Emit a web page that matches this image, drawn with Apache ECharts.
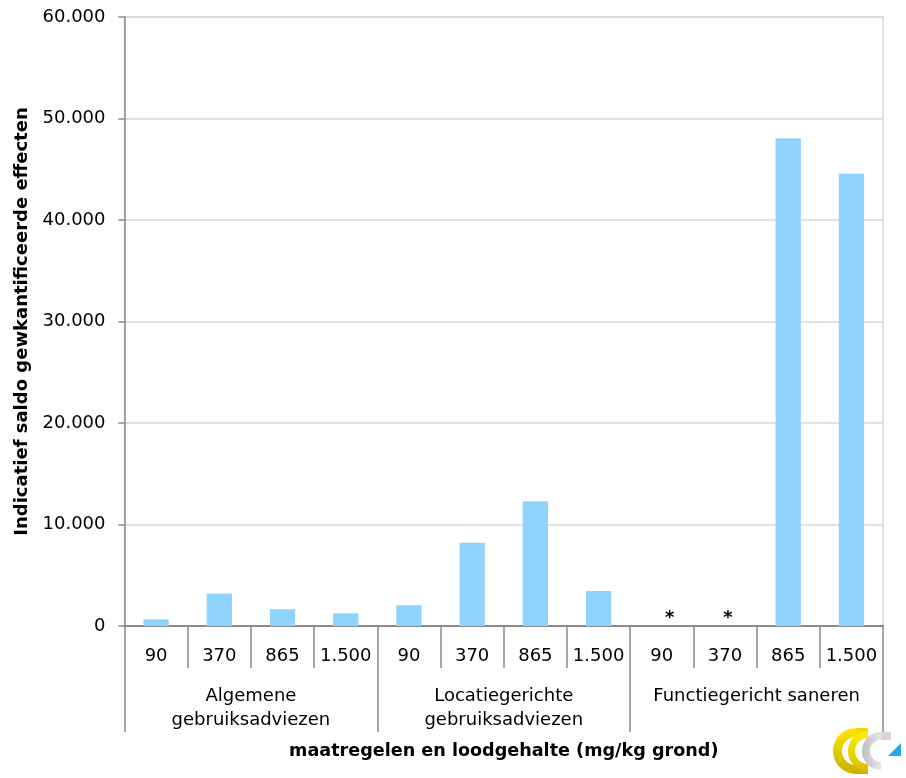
<!DOCTYPE html>
<html>
<head>
<meta charset="utf-8">
<script src="https://cdn.jsdelivr.net/npm/echarts@6/dist/echarts.min.js"></script>
<style>
  html, body { margin: 0; padding: 0; background: #fff; }
  #chart { width: 906px; height: 778px; }
</style>
</head>
<body>
<div id="chart"></div>
<script>
// Loodgehalte per maatregel (mg/kg grond)
const loodgehalten = ['90', '370', '865', '1.500', '90', '370', '865', '1.500', '90', '370', '865', '1.500'];
// Maatregelen, elk met vier loodgehalten
const maatregelen = ['Algemene\ngebruiksadviezen', 'Locatiegerichte\ngebruiksadviezen', 'Functiegericht saneren'];
// Indicatief saldo; null = niet gekwantificeerd (*)
const saldo = [650, 3200, 1650, 1250, 2050, 8200, 12300, 3450, null, null, 48050, 44550];
// Waarden op de y-as
const yTicks = [0, 10000, 20000, 30000, 40000, 50000, 60000];

const FONT = 'DejaVu Sans';
const AXIS_GREY = '#8a8a8a';

function nl(v) {
  return String(v).replace(/\B(?=(\d{3})+(?!\d))/g, '.');
}

const starShift = { 8: 8, 9: 3 };
const barData = saldo.map((v, i) => v === null
  ? {
      value: 0,
      itemStyle: { color: 'rgba(0,0,0,0)' },
      label: { show: true, formatter: '*', offset: [starShift[i] || 0, 6] }
    }
  : v);

const chart = echarts.init(document.getElementById('chart'), null, { renderer: 'canvas' });

chart.setOption({
  animation: false,
  backgroundColor: '#ffffff',
  textStyle: { fontFamily: FONT },
  grid: {
    left: 124.5, right: 23, top: 17, bottom: 152,
    show: true, borderColor: '#d9d9d9', borderWidth: 1.5, containLabel: false
  },
  xAxis: [
    {
      type: 'category',
      data: loodgehalten,
      position: 'bottom',
      axisLine: { lineStyle: { color: AXIS_GREY, width: 2 } },
      axisTick: { show: true, interval: 0, length: 42, lineStyle: { color: AXIS_GREY, width: 1.5 } },
      axisLabel: { interval: 0, color: '#000', fontSize: 18, fontFamily: FONT, margin: 20, lineHeight: 20 },
      splitLine: { show: false }
    },
    {
      type: 'category',
      data: maatregelen,
      position: 'bottom',
      axisLine: { show: false },
      axisTick: { show: true, interval: 0, length: 106, lineStyle: { color: AXIS_GREY, width: 1.5 } },
      axisLabel: { interval: 0, color: '#000', fontSize: 18, fontFamily: FONT, margin: 58, lineHeight: 24 },
      name: 'maatregelen en loodgehalte (mg/kg grond)',
      nameLocation: 'middle',
      nameGap: 116,
      nameTextStyle: { color: '#000', fontSize: 17.6, fontWeight: 'bold', fontFamily: FONT }
    }
  ],
  yAxis: {
    type: 'value',
    min: yTicks[0],
    max: yTicks[yTicks.length - 1],
    interval: yTicks[1] - yTicks[0],
    name: 'Indicatief saldo gewkantificeerde effecten',
    nameLocation: 'middle',
    nameGap: 92,
    nameTextStyle: { color: '#000', fontSize: 18, fontWeight: 'bold', fontFamily: FONT },
    axisLine: { show: true, lineStyle: { color: AXIS_GREY, width: 1.5 } },
    axisTick: { show: true, length: 6, lineStyle: { color: AXIS_GREY, width: 1.5 } },
    axisLabel: { color: '#000', fontSize: 18, fontFamily: FONT, margin: 19, formatter: v => nl(v) },
    splitLine: { show: true, lineStyle: { color: '#d9d9d9', width: 1.5 } }
  },
  series: [{
    type: 'bar',
    xAxisIndex: 0,
    data: barData,
    barWidth: '40%',
    itemStyle: { color: '#8fd3ff' },
    label: { show: false, position: 'top', color: '#000', fontSize: 18, fontWeight: 'bold', fontFamily: FONT }
  }],
  graphic: [
    {
      type: 'group', left: 833, top: 728,
      children: [
        { type: 'sector', shape: { cx: 24, cy: 23, r: 23, r0: 14, startAngle: Math.PI / 2, endAngle: Math.PI * 1.5 },
          style: { fill: new echarts.graphic.LinearGradient(0, 0, 0, 1, [{ offset: 0, color: '#ffe600' }, { offset: 1, color: '#c9b100' }]) } },
        { type: 'rect', shape: { x: 24, y: 0, width: 12, height: 9 }, style: { fill: '#f0d800' } },
        { type: 'rect', shape: { x: 24, y: 37, width: 12, height: 9 }, style: { fill: '#cdb400' } },
        { type: 'sector', shape: { cx: 36, cy: 23, r: 20, r0: 13, startAngle: Math.PI / 2, endAngle: Math.PI * 1.5 },
          style: { fill: new echarts.graphic.LinearGradient(0, 0, 0, 1, [{ offset: 0, color: '#fff000' }, { offset: 1, color: '#d8be00' }]) } },
        { type: 'sector', shape: { cx: 49, cy: 23, r: 19, r0: 11, startAngle: Math.PI / 2, endAngle: Math.PI * 1.5 },
          style: { fill: new echarts.graphic.LinearGradient(0, 0, 1, 0, [{ offset: 0, color: '#bdbdbd' }, { offset: 1, color: '#e8e8e8' }]) } },
        { type: 'rect', shape: { x: 49, y: 4, width: 10, height: 8 }, style: { fill: '#d6d6d6' } },
        { type: 'polygon', shape: { points: [[56, 28], [69, 15], [69, 28]] }, style: { fill: '#29a8e6' } }
      ]
    }
  ]
});
</script>
</body>
</html>
